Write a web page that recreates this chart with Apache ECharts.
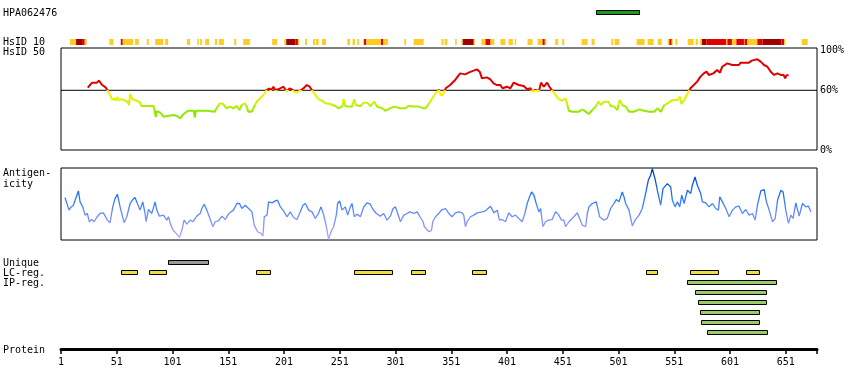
<!DOCTYPE html>
<html><head><meta charset="utf-8">
<script src="https://cdn.jsdelivr.net/npm/echarts@6/dist/echarts.min.js"></script>
<style>html,body{margin:0;padding:0;background:#fff}#c{width:850px;height:390px}</style>
</head><body><div id="c"></div>
<script>
// ---------- DATA ----------
const proteinLength = 679;
const residueTicks = [1, 51, 101, 151, 201, 251, 301, 351, 401, 451, 501, 551, 601, 651];
const antigenName = 'HPA062476';
const antigenRegion = [[481, 520]];
const uniqueRegions = [[97, 133]];
const lcRegions = [[55, 69], [80, 95], [176, 189], [264, 298], [315, 328], [370, 383], [526, 536], [565, 590], [615, 627]];
const ipRegions = [[562, 642], [570, 634], [572, 633], [574, 627], [575, 627], [580, 634]];
// [start, end, level] level 1 = >=10% identity (orange), 2 = higher (red), 3 = highest (dark red)
const hsid10 = [
  [9.1,14.5,1],[14.5,19.9,3],[19.9,22.3,2],[22.3,24.1,1],[44.4,48,1],[54.6,56.4,2],[56.4,65.9,1],[67.4,70.8,1],
  [77.9,79.7,1],[85.4,92.8,1],[94.4,97.1,1],[113.9,116.8,1],[123.1,124.6,1],[125.8,127.6,1],[130.3,133.9,1],
  [139,141.1,1],[142.6,147.1,1],[156.3,158.1,1],[164.4,170.4,1],[190.4,194.9,1],[201.2,203,1],[203,211.1,3],
  [211.1,213.5,2],[213.5,214.7,1],[219.8,221.6,1],[227,228.8,1],[229.7,232,1],[235.1,238.7,1],[257.8,260.2,1],
  [262.5,264.7,1],[266.7,268.3,1],[271.9,272.8,1],[272.8,274.8,2],[274.8,288,1],[288,289.8,2],[289.8,294.3,1],
  [308.9,310.5,1],[317.3,326.3,1],[342.2,344.2,1],[345.1,347.6,1],[354.5,355.9,1],[360.1,361.3,1],[361.3,371.2,3],
  [371.2,372.1,1],[378.1,381.7,1],[381.7,386.2,2],[386.2,389.7,1],[395.1,399.6,1],[402.3,406.2,1],[408,409.2,1],
  [419.4,423.9,1],[428.4,432.9,1],[432.9,434.9,2],[434.9,436.2,1],[444.2,446.9,1],[450.5,452.3,1],[467.9,473.3,1],
  [476.8,479.5,1],[494.5,496.3,1],[497.5,501.7,1],[517.2,524.4,1],[527.1,532.5,1],[536.1,539.7,1],[545.1,546.6,1],
  [546.6,548.7,2],[548.7,549.3,1],[552,553.8,1],[563,568.4,1],[570.1,572.2,1],[574,575.8,1],[575.8,580,3],
  [580,597.7,2],[597.7,598.6,1],[598.6,602.7,2],[602.7,606.7,1],[606.7,613.5,2],[613.5,614.1,1],[614.1,616.5,2],
  [616.5,625.5,1],[625.5,630.3,2],[630.3,647,3],[647,649.4,2],[649.4,650.6,1],[665.3,670.7,1]
];
const hsid50 = [
  [25,62.6],[27,65.3],[29,67.7],[33,67.7],[35,69.7],[36.5,68.7],[38,65.3],[41,63],[42.5,60.3],[45,55.3],[47,50.3],
  [49,52],[50,49.6],[51.5,53],[53,50.3],[55,51],[58,50.3],[61,47.9],[62,45.2],[63,56.3],[65,51],[69,49.6],[72,47.6],
  [73,44.2],[78,44.2],[84,44.2],[85,39.5],[86,33],[87,39],[90,37.5],[93,33.5],[96,34.2],[97,36.2],[102,35.2],
  [105,34.2],[108,31.8],[111,36.2],[115,39.5],[120,39.5],[121,32.5],[122,39.5],[131.5,39.5],[133,37.5],[139,38.5],
  [140.5,41.9],[143.5,46.9],[146.5,46.2],[149.5,41.9],[152.5,43.6],[155.5,41.9],[158.5,44.2],[161,40.2],[163,45.2],
  [166,46.9],[167.5,43.6],[169,38.5],[172,38.5],[173.5,41.9],[176.5,48.6],[179.5,52],[182.5,55.3],[185.5,60.3],
  [188,62],[189,59.6],[191.5,63.6],[193,60.3],[196,61],[197.5,62],[200.5,63.6],[202,61],[203.5,58.6],[206,62],
  [208,61],[210,58.6],[212.5,57.6],[215.5,59.6],[218.5,62],[221.5,65.3],[224,63.6],[226,60.3],[229,55.3],[232,51],
  [235,49.6],[238,46.9],[242.5,46.2],[247,44.2],[250,41.9],[253.5,44.2],[254.5,51],[256,44.2],[259,43.6],[262,43.6],
  [264,51],[265.5,45.2],[269.5,44.2],[272.5,47.6],[275.5,47.6],[278.5,44.2],[282,48.6],[284.5,43.6],[289,41.9],
  [292,39.5],[296,41.9],[300.5,43.6],[305,41.9],[310,41.9],[312.5,44.2],[317,43.6],[321.5,43.6],[326,41.9],
  [328,41.9],[331,46.9],[334,52],[337,57],[340,60.3],[341.5,55.3],[343.5,55.3],[346,62],[350,65.3],[354.5,70.4],
  [359,77],[363.5,76],[366.5,77.7],[371,79.7],[374,81],[376.5,78.7],[378.5,72],[383,73],[386,71],[389,67],
  [392,65.3],[395,65.3],[397,62],[401,63.6],[404,62],[407,67.7],[411.5,65.3],[416,64.3],[419,61],[422,62],
  [423.5,58.6],[426.5,60.3],[429.5,58.6],[431.5,67.7],[434,63.6],[437,67.7],[439,63.6],[441.5,59.6],[444.5,55.3],
  [447.5,51],[450.5,49.6],[453.5,52],[455,53.6],[456.5,39.5],[459.5,38.5],[465.5,38.5],[468.5,40.9],[471.5,38.5],
  [474.5,36.2],[477.5,40.2],[480.5,43.6],[483,48.6],[485,45.2],[488,48.6],[492,48.6],[494,44.2],[497,43.6],
  [500,40.2],[502,50.3],[504.5,45.2],[507.5,43.6],[510.5,38.5],[515,38.5],[519.5,40.9],[524,39.5],[528.5,38.5],
  [533,38.5],[536,41.9],[539,38.5],[542,45.2],[545,46.9],[549.5,50.3],[554,50.3],[556,53.6],[557.5,46.2],[560,50.3],
  [563,57],[565.5,62],[568.5,65.3],[571.5,68.7],[574.5,73.7],[577.5,77],[580,78.7],[582,75.4],[586,77],[589.5,80.4],
  [592,77.7],[594,83.7],[598.5,87.1],[603,85.4],[609,85.4],[610.5,87.8],[618,87.8],[620.5,89.8],[625.5,91.1],
  [628.5,88.8],[631.5,85.4],[634.5,83.7],[637.5,78.7],[640.5,75.4],[643.5,77],[646.5,75.4],[649,75.4],[650.5,72],
  [651.5,75],[653.5,75.4]
];
const antigenicity = [
  [4.6,59.5],[6.1,52.1],[8.2,41.9],[9.7,45.6],[12.1,48.8],[14.5,59.5],[16.6,68.8],[18.1,53.5],[20.5,46.5],[22.6,34.9],
  [24.6,37.2],[26.4,25.6],[28.5,28.8],[30.6,25.6],[33,31.6],[36,37.2],[39,38.1],[40.5,40.9],[42.6,27.9],[45,24.2],
  [47.4,46.5],[49.5,58.1],[51.6,64.2],[54,46.5],[55.5,37.2],[57.6,24.2],[60,32.6],[63,51.2],[65.4,56.7],[67.4,59.5],
  [69.5,51.2],[71.9,41.9],[74.3,53.5],[76.4,37.2],[77.3,25.6],[79.4,42.8],[82.4,37.2],[85.4,53.5],[86.9,41.9],
  [89.3,33.5],[92.9,34.9],[95.9,27.9],[97.4,32.6],[99.5,20.9],[101.9,13],[104.3,9.3],[107.3,3.7],[109.4,14],
  [111.4,27.9],[113.8,22.3],[116.8,27.9],[119.2,25.6],[122.8,33.5],[125.8,37.2],[127.3,44.2],[129.4,50.2],
  [131.8,41.9],[134.2,31.6],[137.2,18.6],[139.3,25.6],[142.3,27],[145.3,33.5],[148.3,28.8],[151.2,36.3],[153.3,39.5],
  [155.7,41.9],[158.7,51.2],[161.1,51.2],[163.2,44.2],[166.2,48.8],[169.2,44.2],[172.2,39.5],[174.3,20.9],[177.3,11.6],
  [180.3,9.3],[182.1,5.6],[183.3,32.6],[185.7,34.9],[187.2,53.5],[190.2,52.1],[193.2,54.9],[195.2,55.8],[197.7,46.5],
  [200.6,40.9],[203.6,32.6],[206.6,39.5],[209.6,31.6],[212.6,28.8],[215.6,39.5],[218,48.8],[220.1,51.2],[223.1,41.9],
  [226.1,39.5],[229.1,30.2],[232.1,38.1],[234.2,46.5],[236.6,34.9],[239,18.6],[241,0.9],[243.1,11.6],[245.5,18.6],
  [247.9,34.9],[249.1,51.2],[250.9,54.9],[253,41.9],[256,46.5],[258.1,34.9],[260.5,46.5],[262,51.2],[264.1,32.6],
  [266.5,36.3],[269.5,32.6],[272.5,46.5],[275.4,52.1],[278.4,50.2],[280.8,42.8],[283.8,37.2],[287.4,33.5],
  [290.4,37.2],[293.4,27.9],[296.4,33.5],[298.8,44.2],[300.9,46.5],[303,37.2],[305.4,25.6],[308.4,34.9],[311.4,37.2],
  [313.8,39.5],[317.4,37.2],[320.4,39.5],[323.3,31.6],[325.7,25.6],[326.9,18.6],[327.8,16.3],[330.8,11.6],[333.2,13],
  [334.4,25.6],[336.8,32.6],[339.8,37.2],[342.2,41.9],[345.8,44.2],[348.8,37.2],[351.7,32.6],[354.7,38.1],
  [357.7,39.5],[360.7,38.1],[362.2,34.9],[363.7,18.6],[365.2,25.6],[368.2,32.6],[371.2,34.9],[374.2,38.1],
  [378.7,39.5],[381.7,40.9],[386.2,47.4],[389.2,38.1],[392.2,41.9],[394.2,27.9],[396.6,28.8],[399.6,25.6],
  [402.6,38.1],[405.6,32.6],[408.6,34.9],[411.6,30.2],[414.6,25.6],[417,37.2],[419.1,51.2],[421.2,60.5],[423,67.4],
  [425.1,62.8],[427.2,51.2],[429.6,39.5],[431.1,44.2],[433.2,18.6],[435.5,25.6],[438.5,27.9],[441.5,28.8],
  [444.5,39.5],[446.9,36.3],[449.9,27.9],[452,27.9],[453.5,18.6],[456.5,25.6],[459.5,30.2],[464,38.1],[466.1,30.2],
  [468.5,20.9],[471.5,18.6],[473,37.2],[474.5,46.5],[477.5,51.2],[481,53.5],[482.8,41.9],[484,32.6],[487.9,27.9],
  [490.9,30.2],[493.9,44.2],[496.9,51.2],[499,56.7],[501.4,53.5],[504.4,67.4],[505.9,60.5],[507.4,51.2],[510.4,41.9],
  [513.4,19.5],[515.8,27.9],[519.4,34.9],[522.3,44.2],[525.3,65.1],[527.7,83.7],[529.8,90.7],[531.3,100],[533.7,86],
  [535.8,69.8],[538.8,48.8],[540.9,72.1],[544.8,79.1],[547.8,74.4],[549.3,55.8],[551.7,46.5],[553.8,53.5],
  [555.9,46.5],[557.7,62.8],[559.8,51.2],[562.8,69.8],[565.7,65.1],[567.2,76.7],[569.6,88.4],[571.7,76.7],
  [574.7,65.1],[576.2,53.5],[579.2,52.1],[582.2,46.5],[585.2,51.2],[588.2,44.2],[590.6,41.9],[591.8,60.5],
  [594.2,53.5],[597.2,44.2],[600.2,32.6],[603.2,41.9],[606.1,46.5],[609.1,47.4],[612.1,37.2],[615.1,42.8],
  [618.1,34.9],[621.1,37.2],[623.5,27.9],[625.6,48.8],[628.6,68.8],[631.6,70.7],[633.7,53.5],[636.1,41.9],
  [639.1,25.6],[641.5,30.2],[643.6,55.8],[646.6,69.8],[648.6,67.4],[651,41.9],[653.4,23.3],[655.5,34.9],
  [657.6,30.2],[660,52.1],[663,33.5],[666,51.2],[669,46.5],[671.4,47.4],[673.5,39.5]
];
const hsidPercentTicks = [0, 60, 100];
const hsidThreshold = 60;

// ---------- CHART ----------
const FONT = 'DejaVu Sans Mono';
const L = 61, R = 33;
const stripColors = {1: '#ffcc22', 2: '#e00000', 3: '#a00000'};

function hiddenX(gi) {
  return {gridIndex: gi, type: 'value', min: 1, max: proteinLength, show: false};
}
function barRender(fill) {
  return function (params, api) {
    const s = api.coord([api.value(0), api.value(2)]);
    const e = api.coord([api.value(1), api.value(2)]);
    return {type: 'rect', shape: {x: Math.round(s[0]) + 0.5, y: Math.round(s[1] - 2.5) + 0.5, width: Math.round(e[0] - s[0]), height: 4},
      style: {fill: fill, stroke: '#000', lineWidth: 1}};
  };
}

const option = {
  animation: false,
  grid: [
    {left: L, right: R, top: 10, height: 5},
    {left: L, right: R, top: 39, height: 6},
    {left: L, right: R, top: 48, height: 102, show: true, borderColor: '#000', borderWidth: 1, backgroundColor: 'transparent'},
    {left: L, right: R, top: 168, height: 72, show: true, borderColor: '#000', borderWidth: 1, backgroundColor: 'transparent'},
    {left: L, right: R, top: 257, height: 80},
    {left: L, right: R, top: 300, height: 49}
  ],
  xAxis: [
    hiddenX(0), hiddenX(1), hiddenX(2), hiddenX(3), hiddenX(4),
    {gridIndex: 5, type: 'value', min: 1, max: proteinLength, position: 'bottom',
      axisLine: {show: true, lineStyle: {color: '#000', width: 3}},
      axisTick: {show: true, length: 5, lineStyle: {color: '#000', width: 1.5}, customValues: residueTicks.concat([proteinLength])},
      axisLabel: {show: true, customValues: residueTicks, margin: 8, color: '#000', fontFamily: FONT, fontSize: 10},
      splitLine: {show: false}}
  ],
  yAxis: [
    {gridIndex: 0, type: 'value', min: 0, max: 1, show: false},
    {gridIndex: 1, type: 'value', min: 0, max: 1, show: false},
    {gridIndex: 2, type: 'value', min: 0, max: 102.5, position: 'right',
      axisLine: {show: false}, axisTick: {show: false}, splitLine: {show: false},
      axisLabel: {show: true, customValues: hsidPercentTicks, formatter: v => v + '%', margin: 3, color: '#000', fontFamily: FONT, fontSize: 10,
        padding: [3, 0, 0, 0]}},
    {gridIndex: 3, type: 'value', min: 0, max: 101, show: false},
    {gridIndex: 4, type: 'value', min: -0.5, max: 7.5, inverse: true, show: false},
    {gridIndex: 5, type: 'value', min: 0, max: 1, show: false}
  ],
  visualMap: [
    {type: 'piecewise', show: false, seriesIndex: 2, dimension: 1,
      pieces: [
        {lt: 40, color: '#90e800'},
        {gte: 40, lt: 45, color: '#aaee00'},
        {gte: 45, lt: 50, color: '#ccf400'},
        {gte: 50, lt: 55, color: '#e6f200'},
        {gte: 55, lt: 60, color: '#ffee00'},
        {gte: 60, color: '#e00000'}
      ]},
    {type: 'continuous', show: false, seriesIndex: 4, dimension: 1, min: 0, max: 100,
      inRange: {color: ['#b4a8ff', '#9098ff', '#6e8cff', '#3f80ff', '#1a6ef5', '#0a56d0', '#043a90']}}
  ],
  series: [
    {type: 'custom', xAxisIndex: 0, yAxisIndex: 0, data: antigenRegion.map(d => [d[0], d[1], 0.5]),
      encode: {x: [0, 1], y: 2},
      renderItem: function (params, api) {
        const s = api.coord([api.value(0), 1]);
        const e = api.coord([api.value(1), 0]);
        return {type: 'rect', shape: {x: Math.round(s[0]) + 0.5, y: Math.round(s[1]) + 0.5, width: Math.round(e[0] - s[0]), height: Math.round(e[1] - s[1]) - 1},
          style: {fill: '#1a9a1a', stroke: '#000', lineWidth: 1}};
      }},
    {type: 'custom', xAxisIndex: 1, yAxisIndex: 1, data: hsid10,
      encode: {x: [0, 1]},
      renderItem: function (params, api) {
        const s = api.coord([api.value(0), 1]);
        const e = api.coord([api.value(1), 0]);
        return {type: 'rect', shape: {x: s[0], y: s[1], width: Math.max(1, e[0] - s[0]), height: e[1] - s[1]},
          style: {fill: stripColors[api.value(2)]}};
      }},
    {type: 'line', xAxisIndex: 2, yAxisIndex: 2, data: hsid50, showSymbol: false, lineStyle: {width: 2}, z: 3},
    {type: 'line', xAxisIndex: 2, yAxisIndex: 2, data: [[1, hsidThreshold], [proteinLength, hsidThreshold]], showSymbol: false,
      lineStyle: {color: '#000', width: 1}, itemStyle: {color: '#000'}, z: 2, silent: true},
    {type: 'line', xAxisIndex: 3, yAxisIndex: 3, data: antigenicity, showSymbol: false, lineStyle: {width: 1.3}},
    {type: 'custom', xAxisIndex: 4, yAxisIndex: 4, data: uniqueRegions.map(d => [d[0], d[1], 0]), encode: {x: [0, 1], y: 2}, renderItem: barRender('#999999')},
    {type: 'custom', xAxisIndex: 4, yAxisIndex: 4, data: lcRegions.map(d => [d[0], d[1], 1]), encode: {x: [0, 1], y: 2}, renderItem: barRender('#eedd44')},
    {type: 'custom', xAxisIndex: 4, yAxisIndex: 4, data: ipRegions.map((d, i) => [d[0], d[1], 2 + i]), encode: {x: [0, 1], y: 2}, renderItem: barRender('#99cc66')},
    {type: 'line', xAxisIndex: 5, yAxisIndex: 5, data: []}
  ],
  graphic: [
    ['HPA062476', 12.5], ['HsID 10', 42], ['HsID 50', 52], ['Antigen-', 173], ['icity', 183.5],
    ['Unique', 262.5], ['LC-reg.', 272.5], ['IP-reg.', 282.5], ['Protein', 349.5]
  ].map(t => ({type: 'text', left: 3, top: t[1] - 4.5, style: {text: t[0], fill: '#000', font: '10px "' + FONT + '"'}}))
};
const chart = echarts.init(document.getElementById('c'), null, {renderer: 'canvas'});
chart.setOption(option);
</script>
</body></html>
